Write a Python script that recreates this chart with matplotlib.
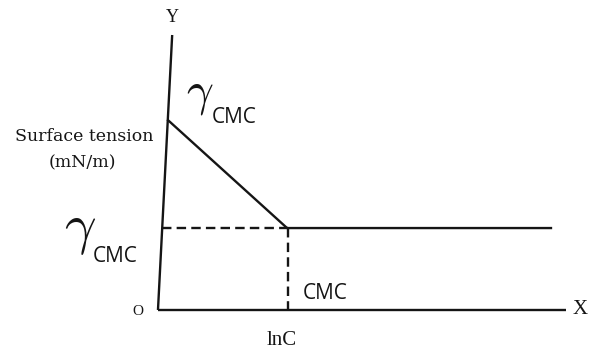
import matplotlib
matplotlib.use("Agg")
import matplotlib.pyplot as plt

# Schematic data (arbitrary units: x = lnC, y = surface tension)
curve_x = [0.2, 3.13, 9.63]
curve_y = [6.9, 2.98, 2.98]
cmc_x = 3.15
gamma_cmc = 2.98
yaxis_x = [-0.05, 0.3]
yaxis_y = [0.0, 10.0]
xaxis_x = [-0.05, 10.0]

fig = plt.figure(figsize=(5.89, 3.53), dpi=100)
ax = fig.add_axes([160/589, 43/353, 406/589, 275/353])
ax.set_xlim(0, 10)
ax.set_ylim(0, 10)
ax.axis("off")

ink = "#151515"
lw = 1.7
ax.plot(yaxis_x, yaxis_y, color=ink, lw=lw, clip_on=False, solid_capstyle="butt")
ax.plot(xaxis_x, [0, 0], color=ink, lw=lw, clip_on=False, solid_capstyle="butt")
ax.plot(curve_x, curve_y, color=ink, lw=lw, clip_on=False)
ax.plot([0.05, cmc_x], [gamma_cmc, gamma_cmc], color=ink, lw=lw,
        dashes=(4, 2.2), clip_on=False)
ax.plot([cmc_x, cmc_x], [gamma_cmc, 0], color=ink, lw=lw,
        dashes=(4, 2.2), clip_on=False)

serif = ["Liberation Serif", "DejaVu Serif"]
wserif = ["DejaVu Serif"]
sans = ["Open Sans", "DejaVu Sans"]
kw = dict(ha="center", va="center", color=ink, clip_on=False)
ax.text(0.3, 10.65, "Y", family=serif, fontsize=13, **kw)
ax.text(10.35, 0.0, "X", family=serif, fontsize=15, **kw)
ax.text(-0.54, -0.04, "O", family=serif, fontsize=11, **kw)
ax.text(3.0, -1.12, "lnC", family=serif, fontsize=15, **kw)
ax.text(4.06, 0.6, "CMC", family=sans, fontsize=15, **kw)
ax.text(-1.87, 6.3, "Surface tension", family=wserif, fontsize=12.5, **kw)
ax.text(-1.92, 5.35, "(mN/m)", family=wserif, fontsize=12.5, **kw)
ax.text(0.97, 7.85, r"$\gamma$", math_fontfamily="cm", fontsize=34, **kw)
ax.text(1.82, 7.0, "CMC", family=sans, fontsize=15, **kw)
ax.text(-1.96, 2.9, r"$\gamma$", math_fontfamily="cm", fontsize=40, **kw)
ax.text(-1.1, 1.95, "CMC", family=sans, fontsize=15, **kw)

fig.savefig("out.png", dpi=100, facecolor="white")
